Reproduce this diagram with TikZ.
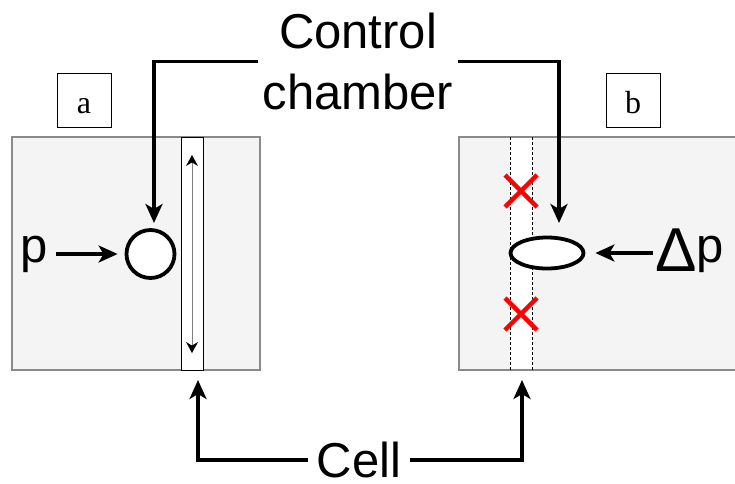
\documentclass[tikz,border=0pt]{standalone}
\usepackage{fontspec}
\setmainfont{Liberation Sans}
\newfontfamily\labfont{Liberation Serif}
\usepackage{tikz}
\usetikzlibrary{arrows.meta,positioning,calc,shapes.geometric}
\usepackage{xcolor}
\definecolor{panelfill}{HTML}{F4F4F4}
\definecolor{panelline}{HTML}{8A8A8A}

\begin{document}
\begin{tikzpicture}[x=1pt, y=-1pt, >={Stealth[length=19pt,width=17pt,inset=5pt]},
  bigtext/.style={font=\fontsize{49}{61}\selectfont, align=center},
  labbox/.style={draw, line width=0.8pt, minimum size=54pt, inner sep=0pt,
    text height=25pt, text depth=0pt, font=\labfont\fontsize{32}{32}\selectfont},
  thickarrow/.style={->, line width=3.3pt},
  ring/.style={draw, line width=3.8pt, fill=white, inner sep=0pt}]

  \useasboundingbox (0,0) rectangle (735,483);
  \clip (0,0) rectangle (735,483);

  % Panels
  \draw[fill=panelfill, draw=panelline, line width=1.3pt] (12,137) rectangle (260,370);
  \draw[fill=panelfill, draw=panelline, line width=1.3pt] (459,137) rectangle (745,370);

  % Cell walls
  \draw[fill=white, line width=0.9pt] (181,137) rectangle (203,370);
  \draw[{Stealth[length=11pt,width=12pt,color=black]}-{Stealth[length=11pt,width=12pt,color=black]},
    draw=gray, line width=1pt] (192,155) -- (192,353);
  \fill[white] (510,138) rectangle (532,369);
  \draw[dash pattern=on 3pt off 2pt, line width=0.8pt] (510,137) -- (510,370) (532,137) -- (532,370);
  \foreach \cy in {191,314}
    \draw[red, line width=4.5pt] (505,\cy-16) -- (537,\cy+16) (505,\cy+16) -- (537,\cy-16);

  % Define nodes
  \node[labbox] (boxa) at (84,100.5) {a};
  \node[labbox] (boxb) at (633,100.5) {b};
  \node[ring, circle, minimum size=48pt] (circ) at (150.5,254) {};
  \node[ring, ellipse, minimum width=73pt, minimum height=31pt] (ovl) at (547,253) {};
  \node[bigtext, inner sep=4pt] (ctrl) at (358,61.5) {Control\\chamber};
  \node[bigtext, inner xsep=9pt, inner ysep=1pt] (cell) at (359,460) {Cell};
  \node[bigtext, anchor=base, inner sep=0pt] (ptxt) at (34,262) {p};
  \node[anchor=base west, inner sep=0pt] (dptxt) at (655,271)
    {\fontsize{62}{62}\selectfont Δ\raisebox{9pt}{\fontsize{49}{61}\selectfont p}};
  \coordinate (ctlL) at (154,223);
  \coordinate (ctlR) at (559,223);
  \coordinate (celL) at (198,380);
  \coordinate (celR) at (522,380);

  % Draw arrows
  \draw[thickarrow] (ctrl.west) -| (ctlL);
  \draw[thickarrow] (ctrl.east) -| (ctlR);
  \draw[thickarrow] (cell.west) -| (celL);
  \draw[thickarrow] (cell.east) -| (celR);
  \draw[thickarrow, shorten <=8pt, shorten >=7pt] (ptxt.east |- circ.west) -- (circ.west);
  \draw[thickarrow, shorten <=2pt, shorten >=10pt] (dptxt.west |- ovl.east) -- (ovl.east);
\end{tikzpicture}
\end{document}
